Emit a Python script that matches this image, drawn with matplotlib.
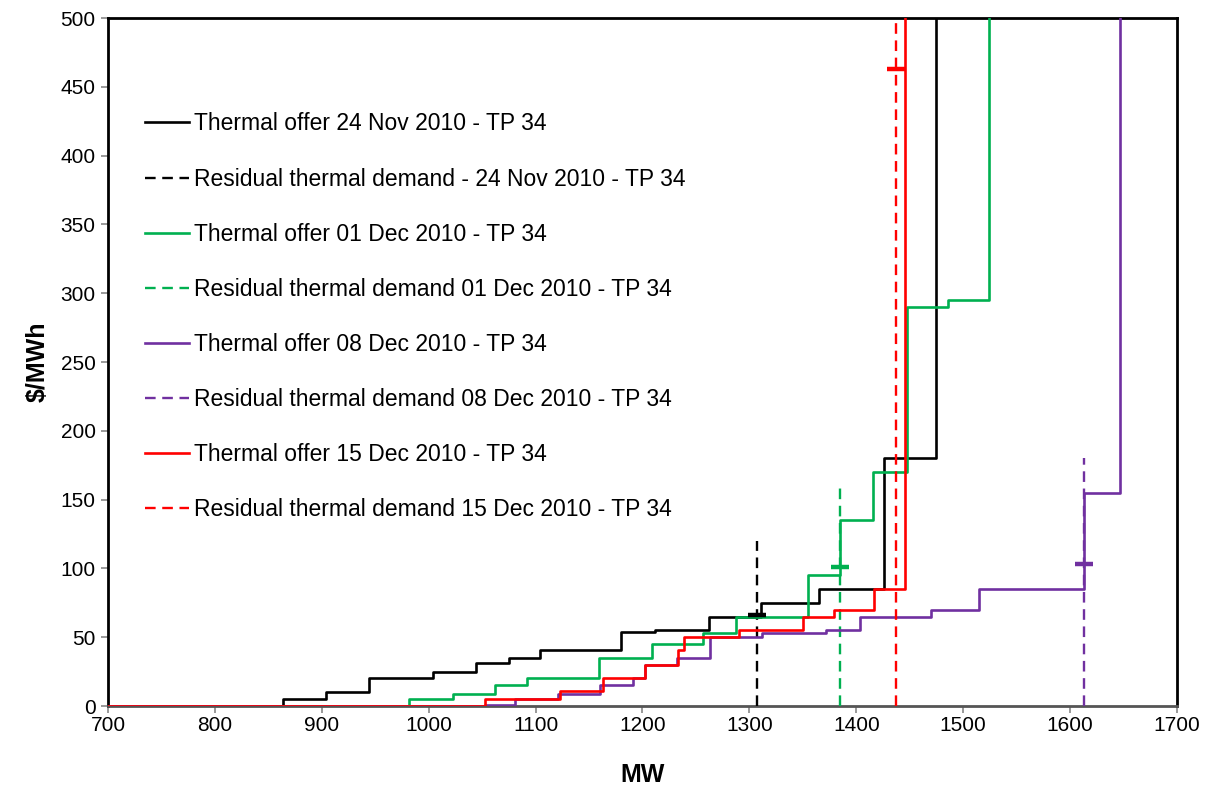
import matplotlib
matplotlib.use("Agg")
import matplotlib.pyplot as plt

# ---- data ----
black_mw = [700, 864, 904, 944, 1004, 1044, 1075, 1104, 1180, 1212, 1262, 1311, 1365, 1426, 1475]
black_price = [0, 5, 10, 20, 25, 31, 35, 41, 54, 55, 65, 75, 85, 180, 500]

green_mw = [700, 982, 1023, 1062, 1092, 1159, 1209, 1257, 1287, 1355, 1385, 1416, 1447, 1486, 1524]
green_price = [0, 5, 9, 15, 20, 35, 45, 53, 65, 95, 135, 170, 290, 295, 500]

purple_mw = [700, 1053, 1081, 1121, 1160, 1191, 1202, 1232, 1263, 1312, 1372, 1403, 1470, 1515, 1613, 1647]
purple_price = [0, 1, 5, 9, 15, 20, 30, 35, 50, 53, 55, 65, 70, 85, 155, 500]

red_mw = [700, 1053, 1123, 1163, 1202, 1233, 1239, 1290, 1350, 1379, 1417, 1446]
red_price = [0, 5, 11, 20, 30, 41, 50, 55, 65, 70, 85, 500]

demand_mw = [1307, 1385, 1613, 1437]
demand_top = [120, 160, 180, 500]
clearing_price = [66, 101, 103, 463]

offer_labels = ["Thermal offer 24 Nov 2010 - TP 34",
                "Thermal offer 01 Dec 2010 - TP 34",
                "Thermal offer 08 Dec 2010 - TP 34",
                "Thermal offer 15 Dec 2010 - TP 34"]
demand_labels = ["Residual thermal demand - 24 Nov 2010 - TP 34",
                 "Residual thermal demand 01 Dec 2010 - TP 34",
                 "Residual thermal demand 08 Dec 2010 - TP 34",
                 "Residual thermal demand 15 Dec 2010 - TP 34"]
colors = ["#000000", "#00B050", "#7030A0", "#FF0000"]

x_ticks = list(range(700, 1701, 100))
y_ticks = list(range(0, 501, 50))

plt.rcParams['font.family'] = ['Liberation Sans', 'DejaVu Sans']

fig = plt.figure(figsize=(12.21, 7.89), dpi=100)
ax = fig.add_axes([108/1221, 1 - 706/789, (1177-108)/1221, (706-18)/789])

offers = [(black_mw, black_price), (green_mw, green_price),
          (purple_mw, purple_price), (red_mw, red_price)]

handles = []
for i, ((mw, pr), c) in enumerate(zip(offers, colors)):
    h1, = ax.step(mw, pr, where='post', color=c, lw=1.9, label=offer_labels[i], zorder=3 + i)
    h2, = ax.plot([demand_mw[i], demand_mw[i]], [0, demand_top[i]], color=c, lw=1.7,
                  dashes=(4.5, 2.8), label=demand_labels[i], zorder=3 + i)
    ax.plot([demand_mw[i]], [clearing_price[i]], marker='_', color=c, markersize=13,
            markeredgewidth=3.2, linestyle='none', zorder=10)
    handles += [h1, h2]

ax.set_xlim(700, 1700)
ax.set_ylim(0, 500)
ax.set_xticks(x_ticks)
ax.set_yticks(y_ticks)
ax.tick_params(axis='both', labelsize=15, length=5, width=1.2, color='#888888', direction='out')
ax.tick_params(axis='x', pad=2)
ax.tick_params(axis='y', pad=4)

for s in ['top', 'right', 'left']:
    ax.spines[s].set_color('black')
    ax.spines[s].set_linewidth(2)
ax.spines['bottom'].set_color('#555555')
ax.spines['bottom'].set_linewidth(2)

ax.set_xlabel("MW", fontsize=18, fontweight='bold', labelpad=20)
ax.set_ylabel("\\$/MWh", fontsize=18, fontweight='bold', labelpad=8)

leg = ax.legend(handles=handles, loc='upper left', bbox_to_anchor=(0.0265, 0.876),
                frameon=False, fontsize=16.5, handlelength=1.9, handletextpad=0.22,
                labelspacing=1.4, borderaxespad=0)

fig.savefig("out.png", dpi=100)
